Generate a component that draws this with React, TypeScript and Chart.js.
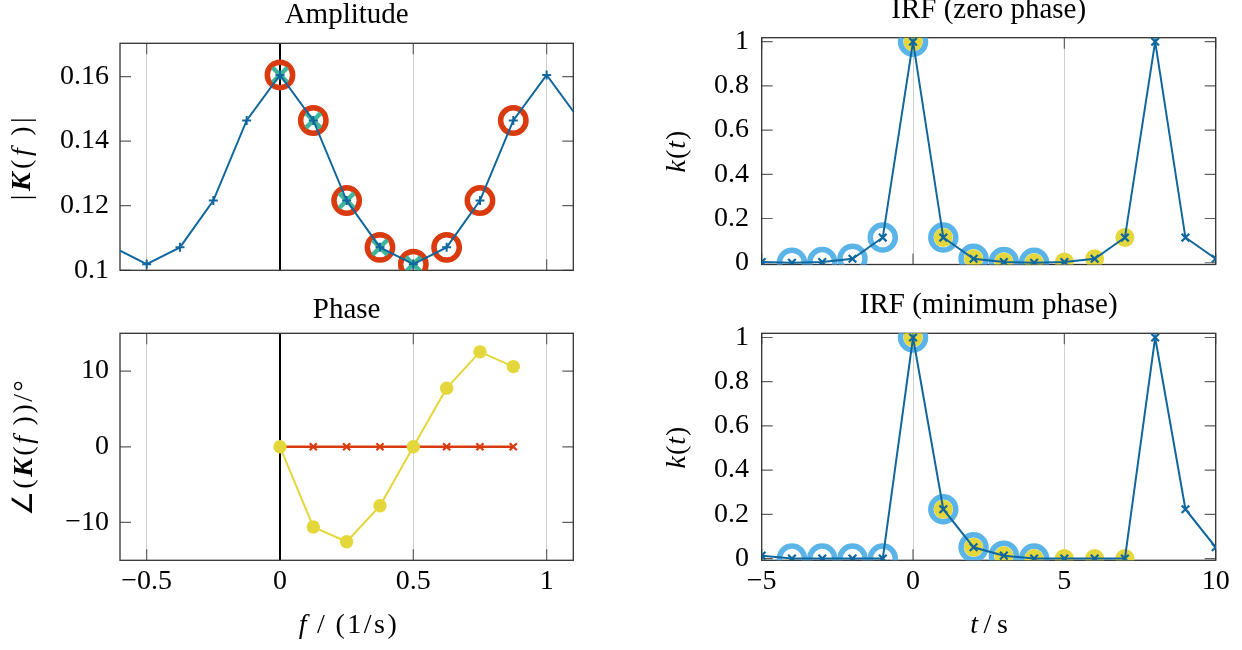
import React, { useEffect, useRef } from 'react';
import { Chart, registerables } from 'chart.js';

Chart.register(...registerables);

const FONT = "'Liberation Serif', 'Times New Roman', serif";
const BLUE = '#10679e';
const TEAL = '#3fb59b';
const RED = '#d93b0f';
const YELLOW = '#e4d73c';
const LIGHTBLUE = '#5bb4e7';
const GRID = '#d0d0d0';
const FRAME = '#333333';
const TICKMARK = '#606060';

// ---------- Amplitude ----------
const ampF = [-0.625, -0.5, -0.375, -0.25, -0.125, 0, 0.125, 0.25, 0.375, 0.5, 0.625, 0.75, 0.875, 1, 1.125];
const ampK = [0.1071, 0.1019, 0.1071, 0.1216, 0.1464, 0.1605, 0.1464, 0.1216, 0.1071, 0.1019, 0.1071, 0.1216, 0.1464, 0.1605, 0.1464];
const ampRingF = [0, 0.125, 0.25, 0.375, 0.5, 0.625, 0.75, 0.875];
const ampCrossF = [0, 0.125, 0.25, 0.375, 0.5];
const freqXTicks = [-0.5, 0, 0.5, 1];
const freqXLabels = ['\u22120.5', '0', '0.5', '1'];
const ampYTicks = [0.1, 0.12, 0.14, 0.16];
const ampYLabels = ['0.1', '0.12', '0.14', '0.16'];

// ---------- Phase ----------
const phaseF = [0, 0.125, 0.25, 0.375, 0.5, 0.625, 0.75, 0.875];
const phaseMinDeg = [0, -10.6, -12.55, -7.8, 0, 7.75, 12.55, 10.6];
const phaseZeroDeg = [0, 0, 0, 0, 0, 0, 0, 0];
const phaseYTicks = [-10, 0, 10];
const phaseYLabels = ['\u221210', '0', '10'];

// ---------- IRF ----------
const irfT = [-5, -4, -3, -2, -1, 0, 1, 2, 3, 4, 5, 6, 7, 8, 9, 10];
const kZero = [0.003, 0, 0.003, 0.018, 0.114, 1, 0.114, 0.018, 0.003, 0, 0.003, 0.018, 0.114, 1, 0.114, 0.018];
const kMin = [0.013, 0, 0, 0, 0, 1, 0.223, 0.051, 0.013, 0, 0, 0, 0, 1, 0.223, 0.051];
const irfRingT = [-4, -3, -2, -1, 0, 1, 2, 3, 4];
const irfDotT = [0, 1, 2, 3, 4, 5, 6, 7];
const irfXTicks = [-5, 0, 5, 10];
const irfXLabels = ['\u22125', '0', '5', '10'];
const irfYTicks = [0, 0.2, 0.4, 0.6, 0.8, 1];
const irfYLabels = ['0', '0.2', '0.4', '0.6', '0.8', '1'];

const pts = (xs: number[], ys: number[]) => xs.map((x, i) => ({ x, y: ys[i] }));
const pick = (xs: number[], ys: number[], sub: number[]) =>
  sub.map((x) => ({ x, y: ys[xs.indexOf(x)] }));

const framePlugin = {
  id: 'frame',
  beforeDatasetsDraw(chart: any, _args: any, opts: any) {
    const { ctx, chartArea: a, scales } = chart;
    const xs = scales.x;
    const ys = scales.y;
    const TL = 11;
    ctx.save();
    ctx.strokeStyle = TICKMARK;
    ctx.lineWidth = 1.2;
    ctx.beginPath();
    for (const t of xs.ticks) {
      if (opts && opts.skipZero && t.value === 0) continue;
      const px = xs.getPixelForValue(t.value);
      ctx.moveTo(px, a.bottom);
      ctx.lineTo(px, a.bottom - TL);
      ctx.moveTo(px, a.top);
      ctx.lineTo(px, a.top + TL);
    }
    for (const t of ys.ticks) {
      const py = ys.getPixelForValue(t.value);
      ctx.moveTo(a.left, py);
      ctx.lineTo(a.left + TL, py);
      ctx.moveTo(a.right, py);
      ctx.lineTo(a.right - TL, py);
    }
    ctx.stroke();
    ctx.strokeStyle = FRAME;
    ctx.lineWidth = 1.3;
    ctx.strokeRect(a.left, a.top, a.right - a.left, a.bottom - a.top);
    ctx.restore();
  },
};

type AxisSpec = {
  min: number;
  max: number;
  ticks: number[];
  labels: string[] | null;
  size: number;
  pad: number;
  zeroLine?: boolean;
};

function xAxis(s: AxisSpec) {
  return {
    type: 'linear',
    min: s.min,
    max: s.max,
    afterBuildTicks: (sc: any) => {
      sc.ticks = s.ticks.map((v) => ({ value: v }));
    },
    afterFit: (sc: any) => {
      sc.height = s.size;
    },
    ticks: {
      display: s.labels != null,
      autoSkip: false,
      maxRotation: 0,
      padding: s.pad,
      color: '#000',
      font: { family: FONT, size: 28, lineHeight: 1.2 },
      callback: (_v: any, i: number) => (s.labels ? s.labels[i] : ''),
    },
    grid: {
      display: true,
      drawTicks: false,
      color: (c: any) => (s.zeroLine && c.tick && c.tick.value === 0 ? '#000' : GRID),
      lineWidth: (c: any) => (s.zeroLine && c.tick && c.tick.value === 0 ? 2 : 1),
    },
    border: { display: false },
  };
}

function yAxis(s: AxisSpec) {
  return {
    type: 'linear',
    min: s.min,
    max: s.max,
    afterBuildTicks: (sc: any) => {
      sc.ticks = s.ticks.map((v) => ({ value: v }));
    },
    afterFit: (sc: any) => {
      sc.width = s.size;
    },
    ticks: {
      display: true,
      autoSkip: false,
      padding: s.pad,
      color: '#000',
      font: { family: FONT, size: 28, lineHeight: 1.2 },
      callback: (_v: any, i: number) => (s.labels ? s.labels[i] : ''),
    },
    grid: { display: false, drawTicks: false },
    border: { display: false },
  };
}

function baseOptions(opt: {
  title: string;
  tTop: number;
  tBottom: number;
  padRight: number;
  padBottom: number;
  x: any;
  y: any;
  skipZero?: boolean;
}) {
  return {
    responsive: false,
    animation: false,
    events: [],
    layout: { padding: { left: 0, top: 0, right: opt.padRight, bottom: opt.padBottom } },
    plugins: {
      legend: { display: false },
      tooltip: { enabled: false },
      title: {
        display: true,
        fullSize: false,
        text: opt.title,
        color: '#000',
        font: { family: FONT, size: 29, weight: 'normal', lineHeight: 1 },
        padding: { top: opt.tTop, bottom: opt.tBottom },
      },
      frame: { skipZero: !!opt.skipZero },
    },
    scales: { x: opt.x, y: opt.y },
  };
}

const ampConfig: any = {
  type: 'line',
  data: {
    datasets: [
      {
        data: pts(ampF, ampK),
        borderColor: BLUE,
        borderWidth: 2,
        pointStyle: 'cross',
        pointRadius: 4.5,
        pointBorderColor: BLUE,
        pointBorderWidth: 2,
        clip: 0,
      },
      {
        data: pick(ampF, ampK, ampCrossF),
        showLine: false,
        pointStyle: 'crossRot',
        pointRadius: 10.5,
        pointBorderColor: TEAL,
        pointBorderWidth: 4.5,
      },
      {
        data: pick(ampF, ampK, ampRingF),
        showLine: false,
        pointStyle: 'circle',
        pointRadius: 12.7,
        pointBorderColor: RED,
        pointBackgroundColor: 'rgba(0,0,0,0)',
        pointBorderWidth: 5.5,
      },
    ],
  },
  options: baseOptions({
    title: 'Amplitude',
    tTop: 1,
    tBottom: 13.3,
    padRight: 46.7,
    padBottom: 29.7,
    skipZero: true,
    x: xAxis({ min: -0.6, max: 1.1, ticks: freqXTicks, labels: null, size: 0, pad: 5, zeroLine: true }),
    y: yAxis({ min: 0.1, max: 0.1703, ticks: ampYTicks, labels: ampYLabels, size: 120, pad: 11 }),
  }),
  plugins: [framePlugin],
};

const phaseConfig: any = {
  type: 'line',
  data: {
    datasets: [
      {
        data: pts(phaseF, phaseMinDeg),
        borderColor: YELLOW,
        borderWidth: 2,
        pointStyle: 'circle',
        pointRadius: 6.7,
        pointBackgroundColor: YELLOW,
        pointBorderColor: YELLOW,
        pointBorderWidth: 0,
      },
      {
        data: pts(phaseF, phaseZeroDeg),
        borderColor: RED,
        borderWidth: 2.5,
        pointStyle: 'crossRot',
        pointRadius: 5,
        pointBorderColor: RED,
        pointBorderWidth: 2.2,
      },
    ],
  },
  options: baseOptions({
    title: 'Phase',
    tTop: 6,
    tBottom: 8.3,
    padRight: 46.7,
    padBottom: 29.7,
    skipZero: true,
    x: xAxis({ min: -0.6, max: 1.1, ticks: freqXTicks, labels: freqXLabels, size: 60, pad: 5, zeroLine: true }),
    y: yAxis({ min: -15, max: 15, ticks: phaseYTicks, labels: phaseYLabels, size: 120, pad: 11 }),
  }),
  plugins: [framePlugin],
};

function irfDatasets(k: number[]) {
  return [
    {
      data: pts(irfT, k),
      borderColor: BLUE,
      borderWidth: 2,
      pointStyle: 'crossRot',
      pointRadius: 5.4,
      pointBorderColor: BLUE,
      pointBorderWidth: 2.2,
    },
    {
      data: pick(irfT, k, irfDotT),
      showLine: false,
      pointStyle: 'circle',
      pointRadius: 9.5,
      pointBackgroundColor: YELLOW,
      pointBorderColor: YELLOW,
      pointBorderWidth: 0,
    },
    {
      data: pick(irfT, k, irfRingT),
      showLine: false,
      pointStyle: 'circle',
      pointRadius: 12.5,
      pointBackgroundColor: 'rgba(0,0,0,0)',
      pointBorderColor: LIGHTBLUE,
      pointBorderWidth: 5.5,
    },
  ];
}

const irfZeroConfig: any = {
  type: 'line',
  data: { datasets: irfDatasets(kZero) },
  options: baseOptions({
    title: 'IRF (zero phase)',
    tTop: 1.7,
    tBottom: 13,
    padRight: 26.3,
    padBottom: 29,
    x: xAxis({ min: -5, max: 10, ticks: irfXTicks, labels: null, size: 0, pad: 5 }),
    y: yAxis({ min: -0.008, max: 1.018, ticks: irfYTicks, labels: irfYLabels, size: 141.7, pad: 12.7 }),
  }),
  plugins: [framePlugin],
};

const irfMinConfig: any = {
  type: 'line',
  data: { datasets: irfDatasets(kMin) },
  options: baseOptions({
    title: 'IRF (minimum phase)',
    tTop: 1,
    tBottom: 13.3,
    padRight: 26.3,
    padBottom: 29.7,
    x: xAxis({ min: -5, max: 10, ticks: irfXTicks, labels: irfXLabels, size: 60, pad: 5 }),
    y: yAxis({ min: -0.008, max: 1.019, ticks: irfYTicks, labels: irfYLabels, size: 141.7, pad: 12.7 }),
  }),
  plugins: [framePlugin],
};

function ChartBox(props: { left: number; top: number; width: number; height: number; config: any }) {
  const ref = useRef<HTMLCanvasElement>(null);
  useEffect(() => {
    const chart = new Chart(ref.current as HTMLCanvasElement, props.config);
    return () => chart.destroy();
  }, []);
  return (
    <canvas
      ref={ref}
      width={props.width}
      height={props.height}
      style={{ position: 'absolute', left: props.left, top: props.top, width: props.width, height: props.height }}
    />
  );
}

function Label(props: { cx: number; cy: number; rotate?: boolean; spacing?: number; children: any }) {
  return (
    <div
      style={{
        position: 'absolute',
        left: props.cx,
        top: props.cy,
        transform: props.rotate ? 'translate(-50%, -50%) rotate(-90deg)' : 'translate(-50%, -50%)',
        whiteSpace: 'nowrap',
        fontFamily: FONT,
        fontSize: 28,
        lineHeight: 1,
        letterSpacing: props.spacing || 0,
        color: '#000',
      }}
    >
      {props.children}
    </div>
  );
}

export default function App() {
  return (
    <div
      style={{
        position: 'absolute',
        left: 0,
        top: 0,
        width: 1242,
        height: 650,
        overflow: 'hidden',
        background: '#fff',
      }}
    >
      <ChartBox left={0} top={0} width={620} height={300} config={ampConfig} />
      <ChartBox left={0} top={290} width={620} height={360} config={phaseConfig} />
      <ChartBox left={620} top={-6} width={622} height={300} config={irfZeroConfig} />
      <ChartBox left={620} top={290} width={622} height={360} config={irfMinConfig} />

      <Label cx={20.5} cy={157} rotate spacing={3.5}>
        |<b><i>K</i></b>(<i>f</i>{'\u2009'})|
      </Label>
      <Label cx={23} cy={447} rotate spacing={2.5}>
        ∠(<b><i>K</i></b>(<i>f</i>{'\u2009'}))/°
      </Label>
      <Label cx={675.5} cy={151} rotate spacing={1}>
        <i>k</i>(<i>t</i>)
      </Label>
      <Label cx={675.5} cy={447} rotate spacing={1}>
        <i>k</i>(<i>t</i>)
      </Label>
      <Label cx={349} cy={624} spacing={2.5}>
        <i>f</i>{'\u2009'}/{'\u2009'}(1/s)
      </Label>
      <Label cx={989} cy={624}>
        <i>t</i>{'\u2009'}/{'\u2009'}s
      </Label>
    </div>
  );
}
